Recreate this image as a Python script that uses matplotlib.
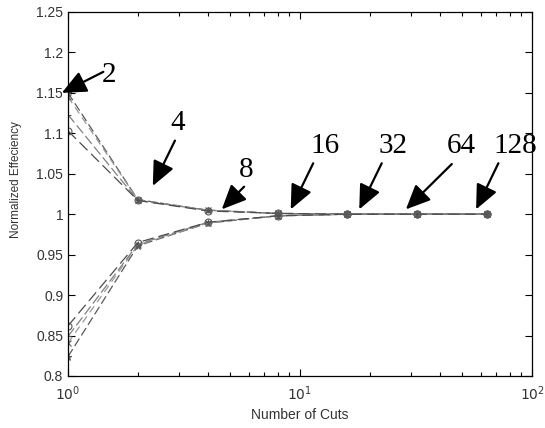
import numpy as np
import matplotlib.pyplot as plt

# number of cuts
cuts = [1, 2, 4, 8, 16, 32, 64]

# upper branch (max efficiency) for four runs
upper_a = [1.150, 1.018, 1.005, 1.001, 1.000, 1.000, 1.000]
upper_b = [1.145, 1.018, 1.005, 1.001, 1.000, 1.000, 1.000]
upper_c = [1.123, 1.017, 1.005, 1.001, 1.000, 1.000, 1.000]
upper_d = [1.103, 1.017, 1.004, 1.001, 1.000, 1.000, 1.000]

# lower branch (min efficiency)
lower_a = [0.862, 0.965, 0.990, 0.998, 1.000, 1.000, 1.000]
lower_b = [0.849, 0.963, 0.990, 0.998, 1.000, 1.000, 1.000]
lower_c = [0.841, 0.962, 0.989, 0.998, 1.000, 1.000, 1.000]
lower_d = [0.824, 0.961, 0.989, 0.998, 1.000, 1.000, 1.000]

# arrow labels: text, text pos, arrow tail, arrow tip
labels = ['2', '4', '8', '16', '32', '64', '128']
text_x = [1.50, 2.96, 5.85, 12.8, 25.1, 49.8, 84.5]
text_y = [1.172, 1.113, 1.055, 1.084, 1.084, 1.084, 1.084]
tail_x = [1.42, 2.89, 5.74, 11.4, 22.5, 45.1, 71.6]
tail_y = [1.176, 1.091, 1.034, 1.063, 1.063, 1.062, 1.063]
tip_x = [0.94, 2.32, 4.60, 9.12, 18.0, 28.6, 57.4]
tip_y = [1.150, 1.035, 1.006, 1.006, 1.006, 1.006, 1.006]

fig = plt.figure(figsize=(5.45, 4.28), dpi=100)
ax = fig.add_axes([0.1248, 0.1215, 0.8514, 0.8505])

styles = [('*', '0.35', (7, 3)), ('x', '0.6', (6, 4)),
          ('+', '0.5', (8, 3)), ('o', '0.3', (9, 4))]
for ys, (m, c, d) in zip([upper_a, upper_b, upper_c, upper_d], styles):
    ax.plot(cuts, ys, color=c, lw=0.9, dashes=d, marker=m, ms=5,
            mfc='none', mec='0.35', mew=0.8)
for ys, (m, c, d) in zip([lower_d, lower_c, lower_b, lower_a], styles):
    ax.plot(cuts, ys, color=c, lw=0.9, dashes=d, marker=m, ms=5,
            mfc='none', mec='0.35', mew=0.8)

for i in range(len(labels)):
    ax.annotate('', xy=(tip_x[i], tip_y[i]), xytext=(tail_x[i], tail_y[i]),
                annotation_clip=False,
                arrowprops=dict(arrowstyle='-|>,head_length=1.0,head_width=0.45',
                                mutation_scale=15, lw=1.6, color='black',
                                shrinkA=0, shrinkB=0))
    ax.text(text_x[i], text_y[i], labels[i], family='Liberation Serif',
            fontsize=21, ha='center', va='center', clip_on=False)

ax.set_xscale('log')
ax.set_xlim(1, 100)
ax.set_ylim(0.8, 1.25)
ax.set_yticks(np.arange(0.8, 1.2501, 0.05))
ax.set_yticklabels(['0.8', '0.85', '0.9', '0.95', '1', '1.05', '1.1', '1.15', '1.2', '1.25'])
ax.tick_params(which='both', direction='in', top=True, right=True,
               labelsize=10, labelcolor='0.2', width=0.8)
ax.tick_params(which='major', length=5)
ax.tick_params(which='minor', length=3)
ax.tick_params(axis='x', pad=6)
for s in ax.spines.values():
    s.set_linewidth(0.9)

ax.set_xlabel('Number of Cuts', family='Liberation Sans', fontsize=10, color='0.2')
ax.set_ylabel('Normalized Effeciency', family='Liberation Sans', fontsize=8.5, color='0.2')
ax.yaxis.set_label_coords(-0.10, 0.54)
for t in ax.get_yticklabels():
    t.set_family('Liberation Sans')

fig.savefig('out.png', dpi=100)
